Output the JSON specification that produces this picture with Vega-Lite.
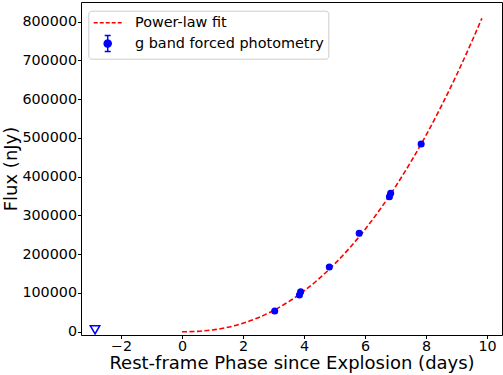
{
  "$schema": "https://vega.github.io/schema/vega-lite/v6.json",
  "width": 421,
  "height": 333,
  "autosize": {"type": "none"},
  "padding": {"left": 81, "top": 2, "right": 1, "bottom": 40},
  "view": {"stroke": "#000000", "strokeWidth": 1, "fill": "#ffffff"},
  "config": {
    "font": "DejaVu Sans",
    "axis": {
      "grid": false,
      "domain": false,
      "ticks": true,
      "tickSize": 3.5,
      "tickColor": "#000000",
      "tickWidth": 1,
      "labelFont": "DejaVu Sans",
      "labelFontSize": 14.3,
      "labelColor": "#000000",
      "labelPadding": 1,
      "titleFont": "DejaVu Sans",
      "titleFontSize": 18,
      "titleFontWeight": "normal",
      "titleColor": "#000000"
    }
  },
  "datasets": {
    "fit": [
      {"t": 0, "flux": 0},
      {"t": 0.25, "flux": 194},
      {"t": 0.5, "flux": 937},
      {"t": 0.75, "flux": 2352},
      {"t": 1, "flux": 4519},
      {"t": 1.5, "flux": 11343},
      {"t": 2, "flux": 21800},
      {"t": 2.5, "flux": 36170},
      {"t": 3, "flux": 54716},
      {"t": 3.5, "flux": 77640},
      {"t": 4, "flux": 105100},
      {"t": 4.5, "flux": 137400},
      {"t": 5, "flux": 174500},
      {"t": 5.5, "flux": 216600},
      {"t": 6, "flux": 263900},
      {"t": 6.5, "flux": 316600},
      {"t": 7, "flux": 374500},
      {"t": 7.5, "flux": 438000},
      {"t": 8, "flux": 507000},
      {"t": 8.5, "flux": 582000},
      {"t": 9, "flux": 662500},
      {"t": 9.5, "flux": 748800},
      {"t": 9.83, "flux": 808800}
    ],
    "phot": [
      {"t": 3.04, "flux": 53400, "err": 3500},
      {"t": 3.85, "flux": 94700, "err": 4000},
      {"t": 3.89, "flux": 103200, "err": 4000},
      {"t": 4.83, "flux": 167000, "err": 4000},
      {"t": 5.81, "flux": 254000, "err": 6000},
      {"t": 6.8, "flux": 348400, "err": 5000},
      {"t": 6.84, "flux": 357200, "err": 5000},
      {"t": 7.84, "flux": 484400, "err": 5000}
    ],
    "limit": [
      {"t": -2.85, "flux": 5000}
    ]
  },
  "encoding": {
    "x": {
      "field": "t",
      "type": "quantitative",
      "scale": {"domain": [-3.31, 10.49], "nice": false, "zero": false},
      "axis": {"values": [-2, 0, 2, 4, 6, 8, 10], "format": "d", "title": "Rest-frame Phase since Explosion (days)", "titlePadding": 1}
    },
    "y": {
      "field": "flux",
      "type": "quantitative",
      "scale": {"domain": [-8500, 850800], "nice": false, "zero": false},
      "axis": {"values": [0, 100000, 200000, 300000, 400000, 500000, 600000, 700000, 800000], "format": "d", "title": "Flux (nJy)", "titlePadding": 1}
    }
  },
  "layer": [
    {
      "data": {"name": "fit"},
      "mark": {"type": "line", "strokeWidth": 1.6, "strokeDash": [5, 2.5], "interpolate": "monotone"},
      "encoding": {
        "color": {
          "datum": "Power-law fit",
          "type": "nominal",
          "scale": {"domain": ["Power-law fit", "g band forced photometry"], "range": ["#ff0000", "#0000ff"]},
          "legend": {
            "title": null,
            "orient": "none",
            "legendX": 7.3,
            "legendY": 8.7,
            "fillColor": "#ffffff",
            "strokeColor": "#cccccc",
            "cornerRadius": 3,
            "padding": 4,
            "symbolSize": 196,
            "symbolOffset": 7.4,
            "labelOffset": 19.3,
            "labelLimit": 400,
            "rowPadding": 2.9,
            "labelFont": "DejaVu Sans",
            "labelFontSize": 14.4,
            "labelColor": "#000000",
            "symbolStrokeWidth": 1.5,
            "encode": {
              "symbols": {
                "update": {
                  "shape": {"signal": "datum.value === 'Power-law fit' ? 'M-2,0H2' : 'M0,-1.14V1.14M-0.43,-1.14H0.43M-0.43,1.14H0.43M0.5,0A0.5,0.5 0 1,1 -0.5,0A0.5,0.5 0 1,1 0.5,0Z'"},
                  "strokeDash": {"signal": "datum.value === 'Power-law fit' ? [4, 2] : [1, 0]"},
                  "fill": {"signal": "datum.value === 'Power-law fit' ? 'transparent' : '#0000ff'"},
                  "stroke": {"signal": "datum.value === 'Power-law fit' ? '#ff0000' : '#0000ff'"},
                  "strokeWidth": {"value": 1.5},
                  "opacity": {"value": 1}
                }
              }
            }
          }
        }
      }
    },
    {
      "data": {"name": "phot"},
      "mark": {"type": "errorbar", "color": "#0000ff", "thickness": 1.2, "ticks": {"size": 5, "thickness": 1.2}},
      "encoding": {
        "yError": {"field": "err"}
      }
    },
    {
      "data": {"name": "phot"},
      "mark": {"type": "point", "filled": true, "size": 50, "opacity": 1, "shape": "circle"},
      "encoding": {
        "color": {"datum": "g band forced photometry", "type": "nominal"}
      }
    },
    {
      "data": {"name": "limit"},
      "mark": {"type": "point", "shape": "triangle-down", "filled": false, "color": "#0000ff", "strokeWidth": 1.5, "size": 90, "opacity": 1}
    }
  ]
}
